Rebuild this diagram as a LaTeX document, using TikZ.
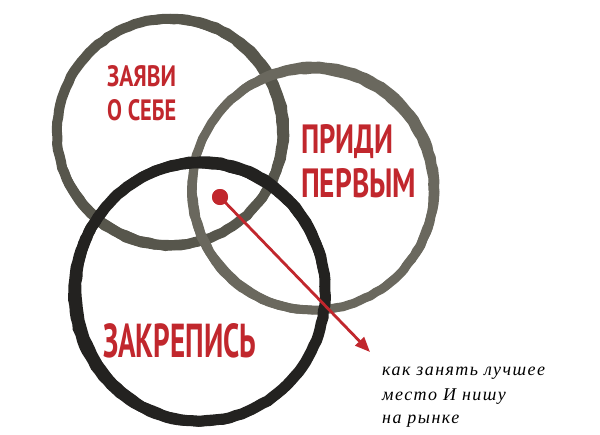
\documentclass[tikz,border=0pt]{standalone}
\usepackage{fontspec}
\usetikzlibrary{arrows.meta,decorations.pathmorphing}
\newfontfamily\headfont{PT Sans}
\newfontfamily\notefont[LetterSpace=8]{Liberation Serif}
\definecolor{brandred}{HTML}{C1272D}
\definecolor{inkA}{HTML}{57564C}
\definecolor{inkB}{HTML}{6A685E}
\definecolor{inkC}{HTML}{232220}
\tikzset{
  ring/.style={line width=#1},
  rough/.style={decorate,decoration={random steps,segment length=6pt,amplitude=0.5pt}},
  headtext/.style={inner sep=0pt,anchor=base west,text=brandred,font=\headfont\bfseries},
  notetext/.style={inner sep=0pt,anchor=base west,text=black,font=\notefont\itshape\fontsize{18}{24}\selectfont},
  pointer/.style={draw=brandred,line width=2.8pt,-{Triangle[length=15pt,width=12pt]}},
  pointdot/.style={circle,fill=brandred,minimum size=16pt,inner sep=0pt}
}
\begin{document}
\begin{tikzpicture}[x=1pt,y=-1pt]
\useasboundingbox[fill=white] (0,0) rectangle (600,434);
% circle A (top left)
\draw[inkA,ring=10pt,rough] (170,132) ellipse [x radius=113pt,y radius=113pt];
\draw[inkA,ring=7pt,rough] (171.5,130.5) ellipse [x radius=114pt,y radius=113pt];
\draw[inkA,ring=7pt,rough] (168.5,133.5) ellipse [x radius=112pt,y radius=113.5pt];
% circle B (right)
\draw[inkB,ring=9pt,rough] (313,189) ellipse [x radius=121pt,y radius=121pt];
\draw[inkB,ring=7pt,rough] (314.5,187.5) ellipse [x radius=121pt,y radius=122pt];
\draw[inkB,ring=7pt,rough] (311.5,190.5) ellipse [x radius=120.5pt,y radius=120pt];
% circle C (bottom, dark)
\draw[inkC,ring=11pt,rough] (200,292) ellipse [x radius=125pt,y radius=129pt];
\draw[inkC,ring=8pt,rough] (198.5,293.5) ellipse [x radius=126pt,y radius=129pt];
\draw[inkC,ring=8pt,rough] (201.5,290.5) ellipse [x radius=124pt,y radius=130pt];
% headings
\node[headtext] (t1) at (107,86) {\resizebox{69pt}{21pt}{ЗАЯВИ}};
\node[headtext] (t2) at (107,120) {\resizebox{69pt}{21pt}{О СЕБЕ}};
\node[headtext] (t3) at (301,153) {\resizebox{92pt}{29pt}{ПРИДИ}};
\node[headtext] (t4) at (301,197) {\resizebox{115pt}{29pt}{ПЕРВЫМ}};
\node[headtext] (t5) at (103,357) {\resizebox{153pt}{34pt}{ЗАКРЕПИСЬ}};
% pointer
\node[pointdot] (dot) at (220,197) {};
\coordinate (tip) at (370,352);
\draw[pointer] (dot.center) -- (tip);
\node[pointdot] at (dot.center) {};
% note
\node[notetext] (n1) at (382,375) {как занять лучшее};
\node[notetext] (n2) at (382,400) {место И нишу};
\node[notetext] (n3) at (382,423) {на рынке};
\end{tikzpicture}
\end{document}
